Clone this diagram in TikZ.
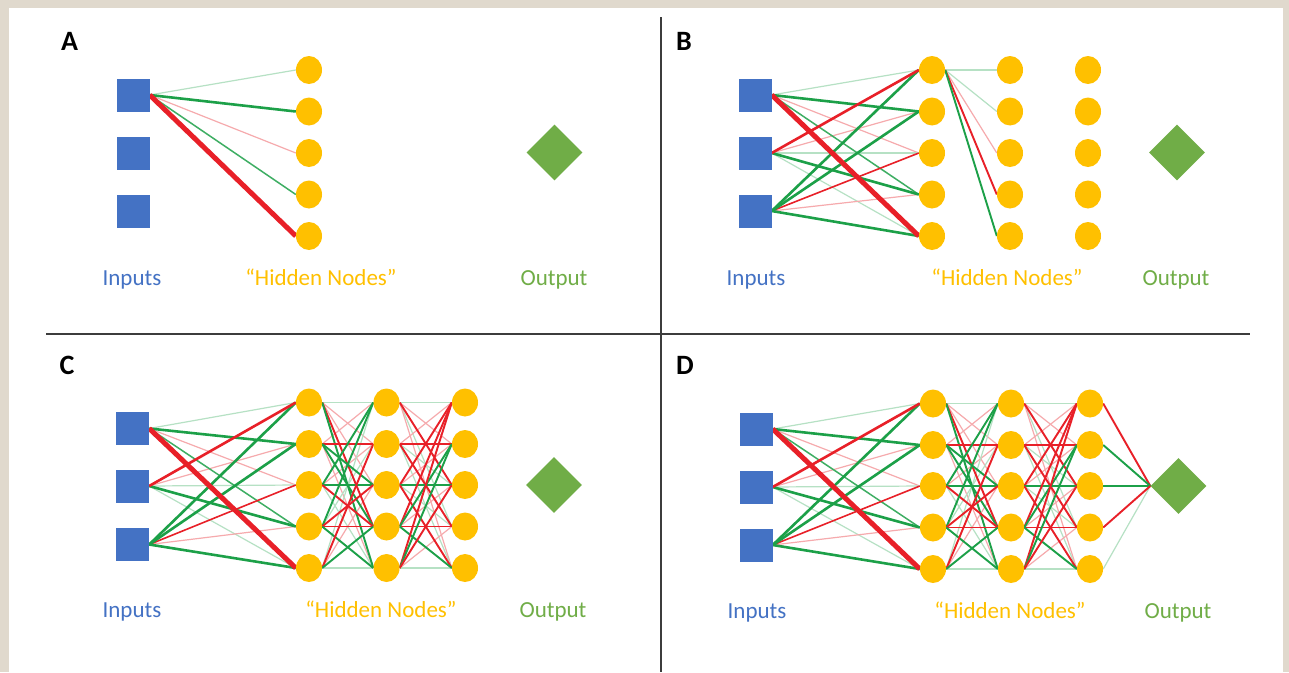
\documentclass[tikz,border=0pt]{standalone}
\usepackage{fontspec}
\setmainfont{Carlito}
\usetikzlibrary{shapes.geometric}

\definecolor{paper}{HTML}{E0D9CD}
\definecolor{inblue}{HTML}{4472C4}
\definecolor{hidgold}{HTML}{FFC000}
\definecolor{outgreen}{HTML}{70AD47}
\definecolor{wred}{RGB}{232,32,40}
\definecolor{wgreen}{RGB}{28,160,72}
\definecolor{rulegray}{HTML}{3C3C3C}

\pgfdeclarelayer{sheet}
\pgfdeclarelayer{edges}
\pgfsetlayers{sheet,edges,main}

\tikzset{
  inbox/.style={fill=inblue, minimum size=33pt, inner sep=0pt},
  hid/.style={ellipse, fill=hidgold, minimum width=26pt, minimum height=28pt, inner sep=0pt},
  outnode/.style={diamond, fill=outgreen, minimum width=56pt, minimum height=56pt, inner sep=0pt},
  tag/.style={font=\fontsize{28}{32}\selectfont\bfseries, text=black, inner sep=0pt},
  lab/.style={font=\fontsize{23}{28}\selectfont, inner sep=0pt, anchor=base},
  % connection weights
  eRR/.style={wred, line width=5pt},
  eR/.style={wred, line width=2.6pt},
  hR/.style={wred, line width=1.9pt},
  erm/.style={wred, line width=1.6pt},
  er/.style={wred!38, line width=1.2pt},
  eG/.style={wgreen, line width=2.6pt},
  hG/.style={wgreen, line width=1.9pt},
  egm/.style={wgreen!85, line width=1.5pt},
  eg/.style={wgreen!32, line width=1.2pt},
}

% connect node #1<i> to node #2<j> for every i/j/style in the list macro #3
\newcommand\meshlinks[3]{%
  \foreach \i/\j/\s in #3 \draw[\s] (#1\i.east) -- (#2\j.west);}

% weights from the three inputs to the first hidden layer
\newcommand\inputlist{1/1/eg,1/3/er,2/2/er,2/3/eg,2/5/eg,3/4/er,1/4/egm,3/3/erm,1/2/eG,2/4/eG,3/1/eG,3/2/eG,3/5/eG,2/1/eR,1/5/eRR}
% weights between hidden layers 1 and 2
\newcommand\firstmesh{1/1/eg,1/2/er,1/3/er,2/1/er,2/5/er,3/2/er,3/5/eg,4/2/eg,5/1/eg,5/3/er,5/5/eg,1/4/hR,1/5/hG,2/2/hR,2/3/hG,2/4/hG,3/1/hG,3/3/hG,3/4/hR,4/1/hG,4/3/hR,4/4/hR,4/5/hG,5/2/hR,5/4/hG}
% weights between hidden layers 2 and 3
\newcommand\secondmesh{1/1/eg,1/2/er,1/4/eg,1/5/er,2/1/er,2/3/eg,2/5/eg,3/2/er,3/4/eg,4/3/er,5/4/er,5/5/eg,1/3/hR,2/2/hR,2/4/hR,3/1/hR,3/3/hG,3/5/hR,4/1/hR,4/2/hG,4/4/hR,4/5/hG,5/1/hR,5/2/hG,5/3/hR}

\begin{document}
\begin{tikzpicture}[x=1pt,y=-1pt]
\useasboundingbox (0,0) rectangle (1289,672);
\begin{pgfonlayer}{sheet}
\fill[paper] (0,0) rectangle (1289,672);
\fill[white] (9,8) rectangle (1283,672);
\end{pgfonlayer}

% quadrant dividers
\draw[rulegray, line width=2.5pt] (661,17) -- (661,672);
\draw[rulegray, line width=2.5pt] (46,334) -- (1250,334);

% ---------------- Panel A ----------------
\node[tag] (A-tag) at (69.5,41) {A};
\foreach \k/\y in {1/95,2/153.5,3/211} \node[inbox] (A-i\k) at (133,\y) {};
\foreach \k/\y in {1/70,2/111.5,3/153,4/194.5,5/236} \node[hid] (A-h1-\k) at (309,\y) {};
\node[outnode] (A-out) at (554.5,152.5) {};
\node[lab, text=inblue] (A-lin) at (132,285) {Inputs};
\node[lab, text=hidgold] (A-lhid) at (321,285) {“Hidden Nodes”};
\node[lab, text=outgreen] (A-lout) at (554,285) {Output};
\begin{pgfonlayer}{edges}
\foreach \j/\s in {1/eg,3/er,4/egm,2/eG,5/eRR} \draw[\s] (A-i1.east) -- (A-h1-\j.west);
\end{pgfonlayer}

% ---------------- Panel B ----------------
\node[tag] (B-tag) at (684,41) {B};
\foreach \k/\y in {1/95,2/153,3/211} \node[inbox] (B-i\k) at (755,\y) {};
\foreach \c/\x in {1/932,2/1010,3/1088}
  \foreach \k/\y in {1/70,2/111.5,3/153,4/194.5,5/236} \node[hid] (B-h\c-\k) at (\x,\y) {};
\node[outnode] (B-out) at (1177,152.5) {};
\node[lab, text=inblue] (B-lin) at (756,285) {Inputs};
\node[lab, text=hidgold] (B-lhid) at (1007,285) {“Hidden Nodes”};
\node[lab, text=outgreen] (B-lout) at (1176,285) {Output};
\begin{pgfonlayer}{edges}
\meshlinks{B-i}{B-h1-}{\inputlist}
\foreach \j/\s in {1/eg,2/eg,3/er,4/hR,5/hG} \draw[\s] (B-h1-1.east) -- (B-h2-\j.west);
\end{pgfonlayer}

% ---------------- Panel C ----------------
\node[tag] (C-tag) at (67,365) {C};
\foreach \k/\y in {1/428.5,2/486,3/544.5} \node[inbox] (C-i\k) at (132.5,\y) {};
\foreach \c/\x in {1/309,2/386.5,3/465}
  \foreach \k/\y in {1/402.5,2/444,3/485,4/526.5,5/568} \node[hid] (C-h\c-\k) at (\x,\y) {};
\node[outnode] (C-out) at (554,485) {};
\node[lab, text=inblue] (C-lin) at (132,617) {Inputs};
\node[lab, text=hidgold] (C-lhid) at (381,617) {“Hidden Nodes”};
\node[lab, text=outgreen] (C-lout) at (553,617) {Output};
\begin{pgfonlayer}{edges}
\meshlinks{C-i}{C-h1-}{\inputlist}
\meshlinks{C-h1-}{C-h2-}{\firstmesh}
\meshlinks{C-h2-}{C-h3-}{\secondmesh}
\end{pgfonlayer}

% ---------------- Panel D ----------------
\node[tag] (D-tag) at (685,365) {D};
\foreach \k/\y in {1/429,2/487,3/545} \node[inbox] (D-i\k) at (756,\y) {};
\foreach \c/\x in {1/933,2/1011,3/1090}
  \foreach \k/\y in {1/403.5,2/445,3/486,4/527.5,5/569} \node[hid] (D-h\c-\k) at (\x,\y) {};
\node[outnode] (D-out) at (1178.5,486) {};
\node[lab, text=inblue] (D-lin) at (757,618) {Inputs};
\node[lab, text=hidgold] (D-lhid) at (1010,618) {“Hidden Nodes”};
\node[lab, text=outgreen] (D-lout) at (1178,618) {Output};
\begin{pgfonlayer}{edges}
\meshlinks{D-i}{D-h1-}{\inputlist}
\meshlinks{D-h1-}{D-h2-}{\firstmesh}
\meshlinks{D-h2-}{D-h3-}{\secondmesh}
\foreach \i/\s in {5/eg,1/hR,2/hG,3/hG,4/hR} \draw[\s] (D-h3-\i.east) -- (D-out.west);
\end{pgfonlayer}
\end{tikzpicture}
\end{document}
